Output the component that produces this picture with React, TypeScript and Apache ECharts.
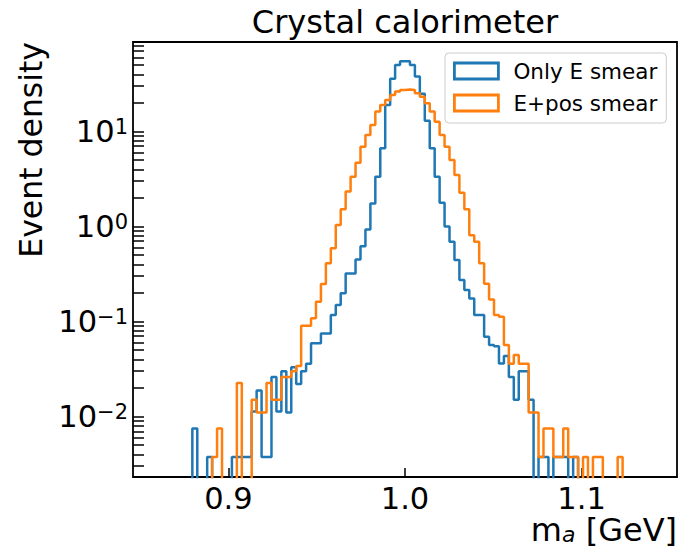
import React, { useEffect, useRef } from "react";
import * as echarts from "echarts";

// ---- data (event density per bin, 100 bins from 0.86 to 1.14) ----
const binStart = 0.86;
const binWidth = 0.0028;

const onlyESmear = [
  0, 0, 0, 0, 0, 0, 0, 0.0075, 0, 0,
  0.00375, 0, 0, 0, 0, 0.00375, 0.00375, 0.00375, 0.00375, 0.0113,
  0.0188, 0.00375, 0.00375, 0.026, 0.0113, 0.03, 0.011, 0.033, 0.022, 0.03,
  0.036, 0.059, 0.059, 0.075, 0.075, 0.117, 0.149, 0.198, 0.32, 0.32,
  0.45, 0.62, 0.93, 1.75, 3.35, 6.65, 19, 36, 50, 55,
  55, 50, 38, 25, 13, 6.65, 3.35, 1.78, 1.0, 0.69,
  0.444, 0.273, 0.215, 0.175, 0.117, 0.117, 0.069, 0.0566, 0.055, 0.0362,
  0.0433, 0.026, 0.015, 0.03, 0.03, 0.015, 0, 0.00375, 0.00375, 0,
  0.00375, 0.00375, 0.00375, 0, 0.00375, 0, 0, 0, 0, 0,
  0, 0, 0, 0, 0, 0, 0, 0, 0, 0,
];

const ePosSmear = [
  0, 0, 0, 0, 0, 0, 0, 0, 0, 0,
  0, 0.00375, 0.0075, 0, 0, 0, 0.0225, 0, 0, 0.015,
  0.011, 0.011, 0.0225, 0.015, 0.015, 0.026, 0.026, 0.03, 0.034, 0.09,
  0.09, 0.108, 0.161, 0.248, 0.41, 0.589, 1.04, 1.52, 2.33, 3.35,
  4.7, 6.9, 9.2, 11.7, 16.2, 19, 21.5, 24.2, 26.3, 27.4,
  27.6, 27.4, 25.2, 23.2, 19.8, 16.2, 12.7, 9.2, 6.9, 5.0,
  3.48, 2.27, 1.52, 0.81, 0.69, 0.41, 0.25, 0.171, 0.117, 0.112,
  0.0565, 0.036, 0.0443, 0.036, 0.036, 0.011, 0.011, 0.00375, 0.0075, 0.0075,
  0.00375, 0.00375, 0.0075, 0.00375, 0.00375, 0, 0.00375, 0, 0.00375, 0.00375,
  0, 0, 0, 0.00375, 0, 0, 0, 0, 0, 0,
];

const seriesNames = ["Only E smear", "E+pos smear"];
const seriesColors = ["#1f77b4", "#ff7f0e"];

const xTickValues = [0.9, 1.0, 1.1];
const yLabelValues = [0.01, 0.1, 1, 10];
const yTickValues = [
  0.003, 0.004, 0.005, 0.006, 0.007, 0.008, 0.009, 0.01,
  0.02, 0.03, 0.04, 0.05, 0.06, 0.07, 0.08, 0.09, 0.1,
  0.2, 0.3, 0.4, 0.5, 0.6, 0.7, 0.8, 0.9, 1,
  2, 3, 4, 5, 6, 7, 8, 9, 10,
  20, 30, 40, 50, 60, 70, 80,
];

const xMin = 0.846;
const xMax = 1.154;
const yMin = 0.00231;
const yMax = 87.5;

const titleText = "Crystal calorimeter";
const FONT = "DejaVu Sans";
const FLOOR = 1e-6; // empty bins drop below the axis

function stepPoints(vals: number[]): number[][] {
  const pts: number[][] = [];
  vals.forEach((v, i) => {
    const y = v > 0 ? v : FLOOR;
    const x0 = binStart + i * binWidth;
    const x1 = binStart + (i + 1) * binWidth;
    pts.push([x0, y], [x1, y]);
  });
  return pts;
}

const supDigits = (e: number) => (e < 0 ? "\u2212" + Math.abs(e) : String(e));

export default function App() {
  const ref = useRef<HTMLDivElement>(null);

  useEffect(() => {
    if (!ref.current) return;
    const chart = echarts.init(ref.current, null, {
      renderer: "svg",
      width: 680,
      height: 549,
    });

    const option: any = {
      animation: false,
      backgroundColor: "#ffffff",
      title: {
        text: titleText,
        left: 405,
        top: 6,
        textAlign: "center",
        padding: 0,
        textStyle: {
          fontFamily: FONT,
          fontSize: 32,
          fontWeight: "normal",
          color: "#000",
        },
      },
      legend: {
        orient: "vertical",
        left: 445,
        top: 53,
        padding: [7, 9, 9, 8],
        itemWidth: 44,
        itemHeight: 16,
        itemGap: 10,
        backgroundColor: "#ffffff",
        borderColor: "#cccccc",
        borderWidth: 1,
        borderRadius: 4,
        selectedMode: false,
        textStyle: {
          fontFamily: FONT,
          fontSize: 21.5,
          color: "#000",
          padding: [0, 0, 0, 10],
        },
        data: seriesNames.map((n, i) => ({
          name: n,
          icon: "rect",
          itemStyle: {
            color: "rgba(0,0,0,0)",
            borderColor: seriesColors[i],
            borderWidth: 2.8,
          },
        })),
      },
      grid: {
        left: 133,
        right: 3,
        top: 42,
        bottom: 72,
        show: true,
        borderColor: "#000",
        borderWidth: 1.8,
        backgroundColor: "#ffffff",
        containLabel: false,
        outerBoundsMode: "none",
      },
      xAxis: {
        type: "value",
        min: xMin,
        max: xMax,
        name: "{m|m}{s|a}{m| [GeV]}",
        nameLocation: "end",
        nameGap: 0,
        nameTextStyle: {
          align: "right",
          verticalAlign: "top",
          padding: [38, 0, 0, 0],
          rich: {
            m: { fontFamily: FONT, fontSize: 32, lineHeight: 30, color: "#000" },
            s: {
              fontFamily: FONT,
              fontSize: 22,
              fontStyle: "italic",
              lineHeight: 12,
              verticalAlign: "bottom",
              color: "#000",
            },
          },
        },
        axisLine: { show: false },
        splitLine: { show: false },
        axisTick: {
          show: true,
          inside: true,
          length: 9,
          customValues: xTickValues,
          lineStyle: { color: "#000", width: 1.5 },
        },
        axisLabel: {
          show: true,
          customValues: xTickValues,
          margin: 6,
          fontFamily: FONT,
          fontSize: 30.5,
          color: "#000",
          formatter: (v: number) => v.toFixed(1),
        },
      },
      yAxis: {
        type: "log",
        logBase: 10,
        min: yMin,
        max: yMax,
        name: "Event density",
        nameLocation: "end",
        nameGap: 0,
        nameRotate: 90,
        nameTextStyle: {
          fontFamily: FONT,
          fontSize: 31.5,
          color: "#000",
          align: "right",
          verticalAlign: "bottom",
          padding: [0, 0, 86, 0],
        },
        axisLine: { show: false },
        splitLine: { show: false },
        minorTick: { show: false },
        axisTick: {
          show: true,
          inside: true,
          length: 11,
          customValues: yTickValues,
          lineStyle: { color: "#000", width: 1.5 },
        },
        axisLabel: {
          show: true,
          customValues: yLabelValues,
          margin: 5,
          color: "#000",
          formatter: (v: number) => {
            const e = Math.round(Math.log10(v));
            return "{b|10}{s|" + supDigits(e) + "}";
          },
          rich: {
            b: { fontFamily: FONT, fontSize: 30.5, lineHeight: 30, color: "#000" },
            s: {
              fontFamily: FONT,
              fontSize: 21,
              lineHeight: 18,
              verticalAlign: "top",
              color: "#000",
            },
          },
        },
      },
      series: [
        {
          name: seriesNames[0],
          type: "line",
          data: stepPoints(onlyESmear),
          symbol: "none",
          clip: true,
          color: seriesColors[0],
          lineStyle: { color: seriesColors[0], width: 2.5 },
          itemStyle: { color: seriesColors[0] },
          z: 2,
        },
        {
          name: seriesNames[1],
          type: "line",
          data: stepPoints(ePosSmear),
          symbol: "none",
          clip: true,
          color: seriesColors[1],
          lineStyle: { color: seriesColors[1], width: 2.5 },
          itemStyle: { color: seriesColors[1] },
          z: 3,
        },
      ],
    };

    chart.setOption(option);
    return () => chart.dispose();
  }, []);

  return (
    <div
      ref={ref}
      style={{ position: "absolute", left: 0, top: 0, width: 680, height: 549 }}
    />
  );
}
